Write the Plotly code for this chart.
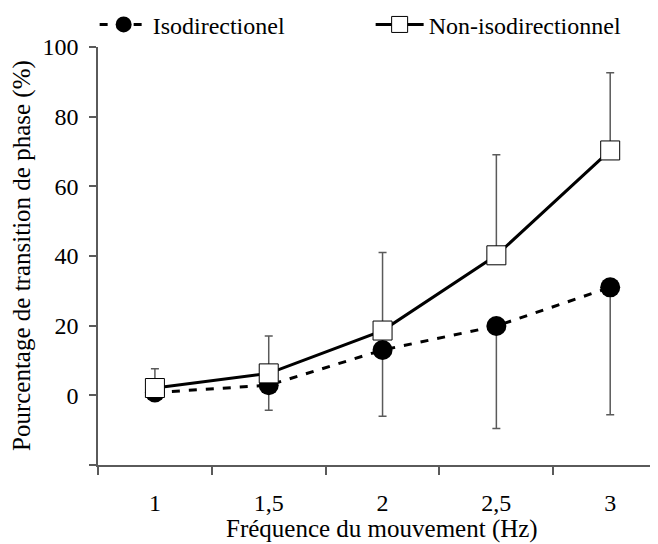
import plotly.graph_objects as go

categories = ["1", "1,5", "2", "2,5", "3"]
x_pos = [1, 2, 3, 4, 5]
iso_values = [0.8, 2.9, 13.0, 19.9, 31.0]
iso_err_minus = [0.0, 7.2, 19.0, 29.4, 36.6]
noniso_values = [2.1, 6.3, 18.6, 40.2, 70.3]
noniso_err_plus = [5.5, 10.7, 22.4, 28.9, 22.3]
y_ticks = [-20, 0, 20, 40, 60, 80, 100]
y_ticktext = ["", "0", "20", "40", "60", "80", "100"]
x_title = "Fréquence du mouvement (Hz)"
y_title = "Pourcentage de transition de phase (%)"

FONT = "Liberation Serif"
GRAY = "#5a5a5a"

fig = go.Figure()
fig.add_trace(go.Scatter(
    x=x_pos, y=iso_values, name="Isodirectionel", mode="lines+markers",
    line=dict(color="black", width=3, dash="8px,9px"),
    marker=dict(symbol="circle", size=20, color="black"),
    error_y=dict(type="data", symmetric=False, array=[0]*5, arrayminus=iso_err_minus,
                 color=GRAY, thickness=1.5, width=4),
))
fig.add_trace(go.Scatter(
    x=x_pos, y=noniso_values, name="Non-isodirectionnel", mode="lines+markers",
    line=dict(color="black", width=3),
    marker=dict(symbol="square", size=19, color="white", line=dict(color="black", width=1)),
    error_y=dict(type="data", symmetric=False, array=noniso_err_plus, arrayminus=[0]*5,
                 color=GRAY, thickness=1.5, width=4),
))

fig.add_annotation(text=x_title, xref="paper", yref="paper", x=0.507, y=-0.152,
                   xanchor="center", yanchor="middle", showarrow=False,
                   font=dict(family=FONT, size=25, color="black"))
fig.add_annotation(text=y_title, xref="paper", yref="paper", x=-0.1357, y=0.5,
                   xanchor="center", yanchor="middle", showarrow=False, textangle=-90,
                   font=dict(family=FONT, size=25, color="black"))

fig.update_layout(
    width=650, height=536,
    margin=dict(l=90, r=0, t=39, b=79, autoexpand=False),
    plot_bgcolor="white", paper_bgcolor="white",
    font=dict(family=FONT, size=24, color="black"),
    showlegend=True,
    legend=dict(orientation="h", x=-0.006, y=1.053, xanchor="left", yanchor="middle",
                entrywidth=213, itemwidth=48, font=dict(family=FONT, size=24),
                bgcolor="rgba(0,0,0,0)"),
    xaxis=dict(
        range=[0.5, 5.42], tickvals=x_pos, ticktext=categories, automargin=False,
        ticks="outside", ticklen=8, tickcolor="rgba(0,0,0,0)", ticklabelstandoff=7,
        tickfont=dict(family=FONT, size=24),
        minor=dict(tickvals=[0.5, 1.5, 2.5, 3.5, 4.5], ticks="outside", ticklen=8,
                   tickcolor=GRAY, tickwidth=1.5, showgrid=False),
        showline=True, linecolor=GRAY, linewidth=1.5, showgrid=False, zeroline=False,
    ),
    yaxis=dict(
        range=[-20, 100], tickvals=y_ticks, ticktext=y_ticktext, automargin=False,
        ticks="outside", ticklen=7, tickcolor=GRAY, tickwidth=1.5, ticklabelstandoff=6,
        tickfont=dict(family=FONT, size=24),
        showline=True, linecolor=GRAY, linewidth=1.5, showgrid=False, zeroline=False,
    ),
)

fig.write_html("out.html")
